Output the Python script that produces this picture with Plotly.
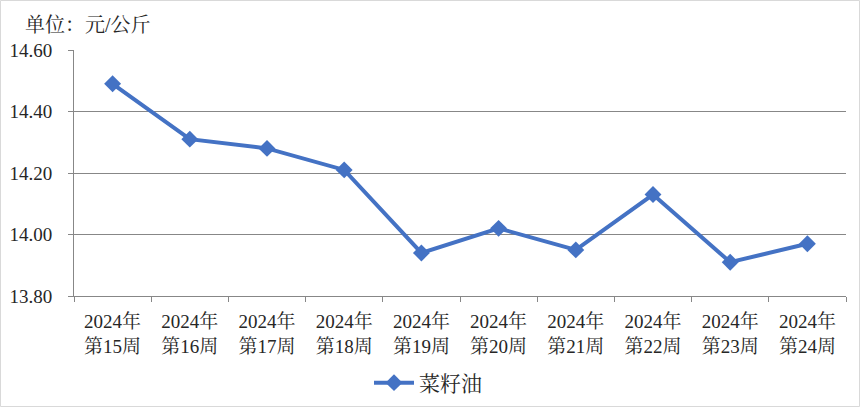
import plotly.graph_objects as go

weeks = ["第15周", "第16周", "第17周", "第18周", "第19周", "第20周", "第21周", "第22周", "第23周", "第24周"]
year_label = "2024年"
categories = [f"{year_label}<br>{w}" for w in weeks]
values = [14.49, 14.31, 14.28, 14.21, 13.94, 14.02, 13.95, 14.13, 13.91, 13.97]
series_name = "菜籽油"
y_ticks = [13.80, 14.00, 14.20, 14.40, 14.60]
y_tick_labels = ["13.80", "14.00", "14.20", "14.40", "14.60"]
unit_title = "单位：元/公斤"

FONT = "Liberation Serif, 'Noto Serif CJK SC', 'Noto Sans CJK SC', serif"
BLUE = "#4472C4"
GRID = "#878787"

fig = go.Figure()
fig.add_trace(go.Scatter(
    x=categories, y=values, name=series_name, mode="lines+markers",
    line=dict(color=BLUE, width=4),
    marker=dict(symbol="diamond", size=13, color=BLUE),
))

W, H = 860, 407
L, R, T, B = 74, 14, 50, 111
pw, ph = W - L - R, H - T - B

fig.update_layout(
    width=W, height=H,
    margin=dict(l=L, r=R, t=T, b=B, autoexpand=False),
    paper_bgcolor="white", plot_bgcolor="white",
    font=dict(family=FONT, size=18, color="#262626"),
    showlegend=True,
    legend=dict(orientation="h", x=(428 - L) / pw, xanchor="center", y=(T + ph - 383) / ph, yanchor="middle",
                font=dict(size=21, color="#262626"), itemwidth=40),
    xaxis=dict(
        type="category", range=[-0.5, 9.5], tickson="boundaries", automargin=False,
        showline=True, linecolor=GRID, linewidth=1,
        ticks="outside", ticklen=5, tickcolor=GRID, ticklabelstandoff=8,
        showgrid=False, tickfont=dict(size=19, color="#262626"),
    ),
    yaxis=dict(
        range=[13.80, 14.60], tickvals=y_ticks, ticktext=y_tick_labels, automargin=False,
        showline=True, linecolor=GRID, linewidth=1,
        ticks="outside", ticklen=5, tickcolor=GRID, ticklabelstandoff=12,
        showgrid=True, gridcolor=GRID, gridwidth=1, zeroline=False,
        tickfont=dict(size=19, color="#262626"),
    ),
    annotations=[dict(
        text=unit_title, xref="paper", yref="paper",
        x=-(L - 23) / pw, y=1 + (T - 25) / ph, xanchor="left", yanchor="middle",
        showarrow=False, font=dict(size=20, color="#262626"),
    )],
    shapes=[dict(
        type="rect", xref="paper", yref="paper",
        x0=-(L - 0.5) / pw, x1=(W - L - 0.5) / pw,
        y0=-(B - 0.5) / ph, y1=1 + (T - 0.5) / ph,
        line=dict(color="#D9D9D9", width=1), layer="below",
    )],
)

fig.write_html("out.html", config={"displayModeBar": False},
               post_script="document.body.style.margin='0px';document.body.style.overflow='hidden';")
